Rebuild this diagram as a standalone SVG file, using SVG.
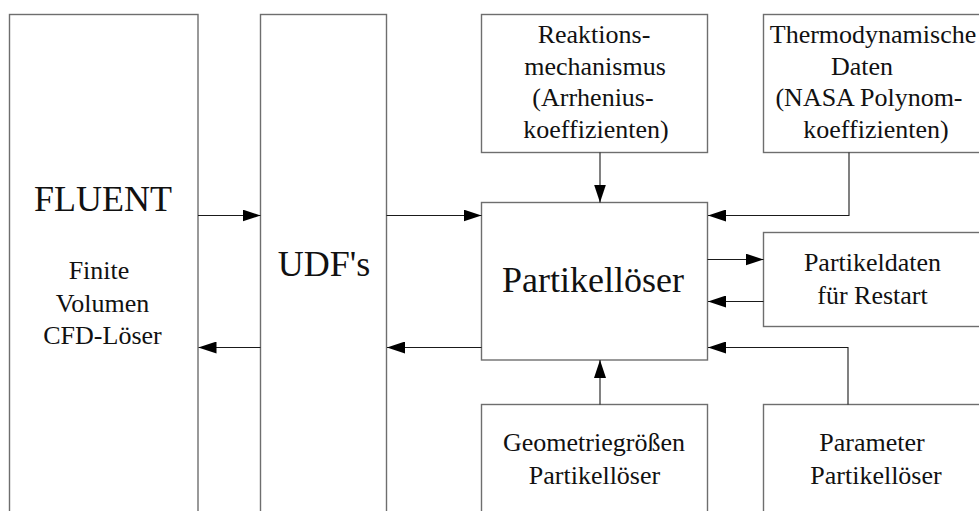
<svg xmlns="http://www.w3.org/2000/svg" width="979" height="511" viewBox="0 0 979 511">
<style>
.box{fill:#fff;stroke:#6e6e6e;stroke-width:1.4}
.con{fill:none;stroke:#1a1a1a;stroke-width:1.1}
text{font-family:'Liberation Serif','Times New Roman',serif;fill:#111;text-anchor:middle}
.s{font-size:26px}
.l{font-size:36px}
</style>
<defs>
<marker id="ah" markerUnits="userSpaceOnUse" markerWidth="18" markerHeight="12" refX="18" refY="6" orient="auto">
<path d="M0,0 L18,6 L0,12 z" fill="#000"/>
</marker>
</defs>
<rect width="979" height="511" fill="#fff"/>
<g id="fluent">
<rect class="box" x="9.5" y="14.5" width="188.5" height="520"/>
<text class="l" x="103" y="211">FLUENT</text>
<text class="s" x="99" y="279">Finite</text>
<text class="s" x="102.5" y="311.5">Volumen</text>
<text class="s" x="102.5" y="344">CFD-Löser</text>
</g>
<g id="udf">
<rect class="box" x="260.5" y="14.5" width="126" height="520"/>
<text class="l" x="324" y="276">UDF's</text>
</g>
<g id="reaktion">
<rect class="box" x="481.5" y="14.5" width="226" height="138"/>
<text class="s" x="594" y="43">Reaktions-</text>
<text class="s" x="595" y="74.5">mechanismus</text>
<text class="s" x="593" y="106">(Arrhenius-</text>
<text class="s" x="596" y="137.5">koeffizienten)</text>
</g>
<g id="thermo">
<rect class="box" x="763.5" y="14.5" width="230" height="138"/>
<text class="s" x="873" y="42.5">Thermodynamische</text>
<text class="s" x="862" y="74.5">Daten</text>
<text class="s" x="869" y="106">(NASA Polynom-</text>
<text class="s" x="876" y="138">koeffizienten)</text>
</g>
<g id="partikelloeser">
<rect class="box" x="481.5" y="202.5" width="226" height="157.5"/>
<text class="l" x="593" y="292">Partikellöser</text>
</g>
<g id="partikeldaten">
<rect class="box" x="763.5" y="232.5" width="230" height="94"/>
<text class="s" x="872.5" y="271">Partikeldaten</text>
<text class="s" x="872.5" y="304">für Restart</text>
</g>
<g id="geometrie">
<rect class="box" x="481.5" y="404.5" width="226" height="130"/>
<text class="s" x="594" y="451">Geometriegrößen</text>
<text class="s" x="594.5" y="483.5">Partikellöser</text>
</g>
<g id="parameter">
<rect class="box" x="763.5" y="404.5" width="230" height="130"/>
<text class="s" x="872" y="451">Parameter</text>
<text class="s" x="876" y="483.5">Partikellöser</text>
</g>
<g id="connectors">
<path class="con" marker-end="url(#ah)" d="M198,215.5 H260.5"/>
<path class="con" marker-end="url(#ah)" d="M386.5,215.5 H481.5"/>
<path class="con" marker-end="url(#ah)" d="M481.5,347.5 H387"/>
<path class="con" marker-end="url(#ah)" d="M260.5,347.5 H198.5"/>
<path class="con" marker-end="url(#ah)" d="M600,152.5 V202.5"/>
<path class="con" marker-end="url(#ah)" d="M849,152.5 V215.5 H708"/>
<path class="con" marker-end="url(#ah)" d="M707.5,259.5 H763.5"/>
<path class="con" marker-end="url(#ah)" d="M763.5,301.5 H708"/>
<path class="con" marker-end="url(#ah)" d="M848,404.5 V347.5 H708"/>
<path class="con" marker-end="url(#ah)" d="M600,404.5 V360"/>
</g>
</svg>
